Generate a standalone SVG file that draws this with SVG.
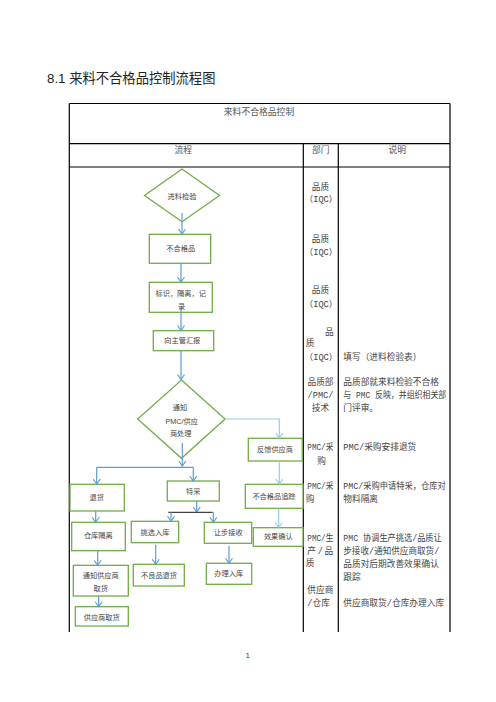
<svg xmlns="http://www.w3.org/2000/svg" width="496" height="702" viewBox="0 0 496 702">
<style>
.bg{fill:#fff}
.tbl{stroke:#000;stroke-width:1.2;fill:none}
.box{fill:#fff;stroke:#70AD47;stroke-width:1.3}
.ft{font-family:"Noto Sans CJK SC","Liberation Sans",sans-serif;font-size:7.2px;fill:#444;text-anchor:middle}
.fl{font-family:"Liberation Sans","Noto Sans CJK SC",sans-serif;font-size:7.2px;fill:#444;text-anchor:middle}
.ct{font-family:"Liberation Mono","Noto Sans CJK SC",monospace;font-size:8.7px;fill:#444}
.m{text-anchor:middle}
.hd{font-family:"Noto Sans CJK SC",sans-serif;font-size:8.8px;fill:#555;text-anchor:middle}
.c{fill:none;stroke:#5B9BD5;stroke-width:1.2}
.cl{fill:none;stroke:#93CDEB;stroke-width:1.2}
.ck{fill:none;stroke:#404040;stroke-width:1.2}
</style>
<defs>
<marker id="av" markerUnits="userSpaceOnUse" markerWidth="8" markerHeight="8" refX="6" refY="4" orient="auto" viewBox="0 0 8 8">
<path d="M1,0.5 L6,4 L1,7.5" fill="none" stroke="#5B9BD5" stroke-width="1.1"/>
</marker>
<marker id="al" markerUnits="userSpaceOnUse" markerWidth="8" markerHeight="8" refX="6" refY="4" orient="auto" viewBox="0 0 8 8">
<path d="M1,0.5 L6,4 L1,7.5" fill="none" stroke="#93CDEB" stroke-width="1.1"/>
</marker>
</defs>
<rect class="bg" x="0" y="0" width="496" height="702"/>

<text x="47" y="83" style="font-family:'Liberation Sans','Noto Sans CJK SC',sans-serif;font-size:13.3px;fill:#222">8.1 来料不合格品控制流程图</text>

<g id="table">
<path class="tbl" d="M69.3,103.5 H450 M69.3,143.7 H450 M69.3,167 H450 M69.3,103.5 V632 M450,103.5 V632 M303.3,143.7 V632 M338.3,143.7 V632"/>
<text class="hd" x="259" y="115">来料不合格品控制</text>
<text class="hd" x="183.3" y="152.5">流程</text>
<text class="hd" x="320.7" y="152.5">部门</text>
<text class="hd" x="397.3" y="152.5">说明</text>
</g>

<g id="dept">
<text class="ct m" x="320.5" y="189.7">品质</text>
<text class="ct m" x="321" y="202">（IQC）</text>
<text class="ct m" x="320.5" y="242">品质</text>
<text class="ct m" x="321" y="255.3">（IQC）</text>
<text class="ct m" x="320.5" y="293">品质</text>
<text class="ct m" x="321" y="307">（IQC）</text>
<text class="ct m" x="329.3" y="334.7">品</text>
<text class="ct m" x="310" y="346.3">质</text>
<text class="ct m" x="321" y="359.7">（IQC）</text>
<text class="ct m" x="320.5" y="384.7">品质部</text>
<text class="ct m" x="320.5" y="398">/PMC/</text>
<text class="ct m" x="320.5" y="411.3">技术</text>
<text class="ct" x="307.3" y="450.3" textLength="26" lengthAdjust="spacingAndGlyphs">PMC/采</text>
<text class="ct m" x="321.7" y="463.7">购</text>
<text class="ct" x="307.3" y="488.7" textLength="26" lengthAdjust="spacingAndGlyphs">PMC/采</text>
<text class="ct m" x="310" y="502.3">购</text>
<text class="ct" x="307.3" y="541.3" textLength="26" lengthAdjust="spacingAndGlyphs">PMC/生</text>
<text class="ct" x="307.3" y="554" textLength="26" lengthAdjust="spacing">产 / 品</text>
<text class="ct m" x="310" y="566.3">质</text>
<text class="ct" x="307.3" y="593">供应商</text>
<text class="ct" x="307.3" y="606.3">/仓库</text>
</g>

<g id="desc">
<text class="ct" x="343.3" y="359.7">填写（进料检验表）</text>
<text class="ct" x="343.3" y="384.7">品质部就来料检验不合格</text>
<text class="ct" x="343.3" y="398" textLength="103" lengthAdjust="spacingAndGlyphs">与 PMC 反映，并组织相关部</text>
<text class="ct" x="343.3" y="411.3">门评审。</text>
<text class="ct" x="343.3" y="450.3">PMC/采购安排退货</text>
<text class="ct" x="343.3" y="488.7" textLength="102.5" lengthAdjust="spacingAndGlyphs">PMC/采购申请特采，仓库对</text>
<text class="ct" x="343.3" y="502.3">物料隔离</text>
<text class="ct" x="343.3" y="541.3" textLength="98.5" lengthAdjust="spacingAndGlyphs">PMC 协调生产挑选/品质让</text>
<text class="ct" x="343.3" y="554" textLength="96" lengthAdjust="spacingAndGlyphs">步接收/通知供应商取货/</text>
<text class="ct" x="343.3" y="567">品质对后期改善效果确认</text>
<text class="ct" x="343.3" y="579.7">跟踪</text>
<text class="ct" x="343.3" y="606.3">供应商取货/仓库办理入库</text>
</g>

<g id="n-inspect">
<polygon class="box" points="182,169 219.5,195.5 182,221.7 144.5,195.5"/>
<text class="ft" x="182" y="198.5">进料检验</text>
</g>
<g id="n-nonconform">
<rect class="box" x="149.3" y="234.3" width="61.4" height="29"/>
<text class="ft" x="180.7" y="251.3">不合格品</text>
</g>
<g id="n-mark">
<rect class="box" x="149.3" y="282.3" width="63" height="30"/>
<text class="ft" x="180.7" y="295.7">标识，隔离，记</text>
<text class="ft" x="181.7" y="308.7">录</text>
</g>
<g id="n-report">
<rect class="box" x="153.3" y="330.7" width="60.4" height="20"/>
<text class="ft" x="182.3" y="343">向主管汇报</text>
</g>
<g id="n-notify">
<polygon class="box" points="181.5,380 225,419 181.5,458.3 137.7,419"/>
<text class="ft" x="180" y="410.3">通知</text>
<text class="fl" x="181.7" y="424">PMC/供应</text>
<text class="ft" x="180.7" y="436.3">商处理</text>
</g>
<g id="n-feedback">
<rect class="box" x="248.3" y="438.3" width="54" height="22.7"/>
<text class="ft" x="275" y="452.3">反馈供应商</text>
</g>
<g id="n-track">
<rect class="box" x="245.3" y="484.3" width="57.7" height="24"/>
<text class="ft" x="274" y="498.7">不合格品追踪</text>
</g>
<g id="n-confirm">
<rect class="box" x="253.3" y="527.7" width="49.7" height="18.6"/>
<text class="ft" x="278.3" y="539">效果确认</text>
</g>
<g id="n-return">
<rect class="box" x="70" y="484.3" width="54.3" height="26.7"/>
<text class="ft" x="96.7" y="499.7">退货</text>
</g>
<g id="n-special">
<rect class="box" x="167.3" y="481" width="52" height="20"/>
<text class="ft" x="193.3" y="494">特采</text>
</g>
<g id="n-isolate">
<rect class="box" x="71.7" y="522.3" width="53.6" height="28.4"/>
<text class="ft" x="98.3" y="538">仓库隔离</text>
</g>
<g id="n-notifysup">
<rect class="box" x="73.3" y="565.3" width="55" height="30.7"/>
<text class="ft" x="100.7" y="578">通知供应商</text>
<text class="ft" x="100.7" y="590.7">取货</text>
</g>
<g id="n-pickup">
<rect class="box" x="75.3" y="606.7" width="53" height="19.3"/>
<text class="ft" x="101.7" y="619.7">供应商取货</text>
</g>
<g id="n-select">
<rect class="box" x="131.3" y="521.3" width="47.4" height="21.4"/>
<text class="ft" x="155" y="534.7">挑选入库</text>
</g>
<g id="n-concede">
<rect class="box" x="204.3" y="522.3" width="47.4" height="21"/>
<text class="ft" x="228.3" y="535.3">让步接收</text>
</g>
<g id="n-reject">
<rect class="box" x="133.3" y="564.3" width="51" height="21.7"/>
<text class="ft" x="159" y="578">不良品退货</text>
</g>
<g id="n-stock">
<rect class="box" x="206.3" y="563.3" width="45.4" height="21"/>
<text class="ft" x="228.7" y="576.3">办理入库</text>
</g>

<g id="connectors">
<path class="c" d="M182,213 V234" marker-end="url(#av)"/>
<path class="c" d="M181,263.5 V282" marker-end="url(#av)"/>
<path class="c" d="M181,309 V330.5" marker-end="url(#av)"/>
<path class="c" d="M181,351 V379.5" marker-end="url(#av)"/>
<path class="cl" d="M225,419 H279.3 V438" marker-end="url(#al)"/>
<path class="cl" d="M279.3,461 V484" marker-end="url(#al)"/>
<path class="cl" d="M278.7,508.5 V527.5" marker-end="url(#al)"/>
<path class="c" d="M182.3,443 V466" marker-end="url(#av)"/>
<path class="c" d="M96.7,467.3 H193.3"/>
<path class="c" d="M96.7,467.3 V484" marker-end="url(#av)"/>
<path class="c" d="M193.3,467.3 V481" marker-end="url(#av)"/>
<path class="c" d="M95.7,511 V522.3" marker-end="url(#av)"/>
<path class="c" d="M97.7,550.7 V565.3" marker-end="url(#av)"/>
<path class="c" d="M98.7,596 V606.7" marker-end="url(#av)"/>
<path class="c" d="M196.7,501 V512" marker-end="url(#av)"/>
<path class="ck" d="M168.3,512.3 H212.7"/>
<path class="c" d="M171,512.3 V521.3" marker-end="url(#av)"/>
<path class="c" d="M213.3,512.3 V522.3" marker-end="url(#av)"/>
<path class="c" d="M155.7,545 V564.3" marker-end="url(#av)"/>
<path class="c" d="M229,546 V563.3" marker-end="url(#av)"/>
</g>

<text x="247.7" y="658" style="font-family:'Liberation Sans',sans-serif;font-size:8px;fill:#444" text-anchor="middle">1</text>
</svg>
